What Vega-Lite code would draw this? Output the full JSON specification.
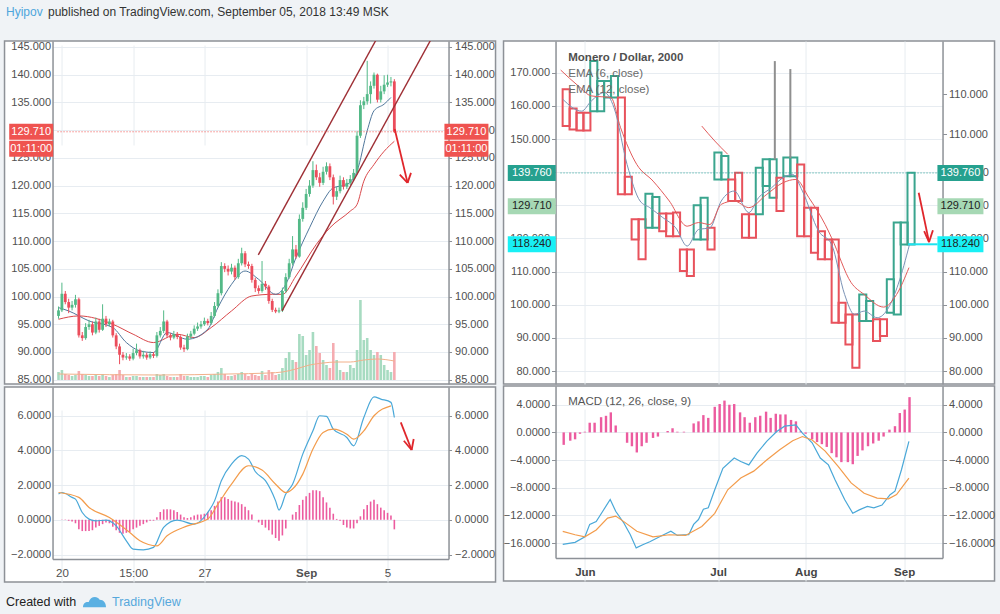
{
  "$schema": "https://vega.github.io/schema/vega-lite/v6.json",
  "background": "#f0f3f6",
  "padding": 0,
  "spacing": 0,
  "center": true,
  "config": {
    "font": "Liberation Sans",
    "view": {"stroke": "#8d9197", "strokeWidth": 1.5},
    "axis": {
      "labelFont": "Liberation Sans", "labelFontSize": 11, "labelColor": "#505050",
      "domainColor": "#8d9197", "domainWidth": 1.5, "tickColor": "#8d9197",
      "gridColor": "#e7ecf1", "labelFlush": false, "labelOverlap": false
    }
  },
  "datasets": {
    "candles": [
      {"t":"2018-08-19T20:00Z","o":96.5,"h":98.2,"l":96.0,"c":97.5,"v":8,"m":0},
      {"t":"2018-08-20T00:00Z","o":97.5,"h":102.5,"l":97.2,"c":100.5,"v":10,"m":0.02},
      {"t":"2018-08-20T04:00Z","o":100.5,"h":101.0,"l":98.6,"c":99.0,"v":6,"m":0.02},
      {"t":"2018-08-20T08:00Z","o":99.0,"h":99.6,"l":97.0,"c":98.0,"v":5,"m":-0.05},
      {"t":"2018-08-20T12:00Z","o":98.0,"h":99.2,"l":97.5,"c":98.5,"v":4,"m":-0.1},
      {"t":"2018-08-20T16:00Z","o":98.5,"h":100.3,"l":98.0,"c":99.5,"v":5,"m":-0.2},
      {"t":"2018-08-20T20:00Z","o":99.5,"h":99.8,"l":92.6,"c":93.0,"v":9,"m":-0.55},
      {"t":"2018-08-21T00:00Z","o":93.0,"h":93.6,"l":92.0,"c":92.5,"v":6,"m":-0.65},
      {"t":"2018-08-21T04:00Z","o":92.5,"h":95.2,"l":92.2,"c":94.5,"v":5,"m":-0.65},
      {"t":"2018-08-21T08:00Z","o":94.5,"h":95.8,"l":94.0,"c":95.0,"v":4,"m":-0.65},
      {"t":"2018-08-21T12:00Z","o":95.0,"h":95.5,"l":93.0,"c":93.5,"v":4,"m":-0.6},
      {"t":"2018-08-21T16:00Z","o":93.5,"h":96.2,"l":93.2,"c":95.5,"v":5,"m":-0.45},
      {"t":"2018-08-21T20:00Z","o":95.5,"h":96.0,"l":93.5,"c":94.0,"v":4,"m":-0.35},
      {"t":"2018-08-22T00:00Z","o":94.0,"h":98.6,"l":93.8,"c":96.0,"v":6,"m":-0.25},
      {"t":"2018-08-22T04:00Z","o":96.0,"h":96.5,"l":94.5,"c":95.0,"v":4,"m":-0.15},
      {"t":"2018-08-22T08:00Z","o":95.0,"h":96.0,"l":94.6,"c":95.5,"v":3,"m":-0.2},
      {"t":"2018-08-22T12:00Z","o":95.5,"h":95.8,"l":92.6,"c":93.0,"v":5,"m":-0.4},
      {"t":"2018-08-22T16:00Z","o":93.0,"h":93.4,"l":90.5,"c":91.0,"v":6,"m":-0.6},
      {"t":"2018-08-22T20:00Z","o":91.0,"h":91.5,"l":87.8,"c":89.5,"v":10,"m":-0.75},
      {"t":"2018-08-23T00:00Z","o":89.5,"h":90.0,"l":88.5,"c":89.0,"v":5,"m":-0.8},
      {"t":"2018-08-23T04:00Z","o":89.0,"h":89.8,"l":88.6,"c":89.2,"v":3,"m":-0.75},
      {"t":"2018-08-23T08:00Z","o":89.2,"h":89.6,"l":88.4,"c":88.8,"v":3,"m":-0.7},
      {"t":"2018-08-23T12:00Z","o":88.8,"h":90.6,"l":88.5,"c":89.8,"v":4,"m":-0.55},
      {"t":"2018-08-23T16:00Z","o":89.8,"h":91.5,"l":89.4,"c":90.3,"v":4,"m":-0.45},
      {"t":"2018-08-23T20:00Z","o":90.3,"h":90.6,"l":88.8,"c":89.2,"v":3,"m":-0.35},
      {"t":"2018-08-24T00:00Z","o":89.2,"h":90.2,"l":88.8,"c":89.5,"v":3,"m":-0.25},
      {"t":"2018-08-24T04:00Z","o":89.5,"h":89.9,"l":88.6,"c":89.0,"v":3,"m":-0.15},
      {"t":"2018-08-24T08:00Z","o":89.0,"h":90.1,"l":88.7,"c":89.6,"v":3,"m":-0.05},
      {"t":"2018-08-24T12:00Z","o":89.6,"h":90.0,"l":88.9,"c":89.3,"v":3,"m":-0.05},
      {"t":"2018-08-24T16:00Z","o":89.3,"h":93.6,"l":89.0,"c":93.0,"v":6,"m":0.15},
      {"t":"2018-08-24T20:00Z","o":93.0,"h":94.5,"l":92.6,"c":93.8,"v":5,"m":0.45},
      {"t":"2018-08-25T00:00Z","o":93.8,"h":97.5,"l":93.4,"c":95.5,"v":6,"m":0.6},
      {"t":"2018-08-25T04:00Z","o":95.5,"h":95.8,"l":92.6,"c":93.0,"v":4,"m":0.6},
      {"t":"2018-08-25T08:00Z","o":93.0,"h":93.4,"l":92.1,"c":92.6,"v":3,"m":0.6},
      {"t":"2018-08-25T12:00Z","o":92.6,"h":93.8,"l":92.3,"c":93.2,"v":3,"m":0.55},
      {"t":"2018-08-25T16:00Z","o":93.2,"h":93.6,"l":92.3,"c":92.7,"v":3,"m":0.45},
      {"t":"2018-08-25T20:00Z","o":92.7,"h":93.0,"l":90.4,"c":90.8,"v":6,"m":0.3},
      {"t":"2018-08-26T00:00Z","o":90.8,"h":91.3,"l":90.0,"c":90.5,"v":4,"m":0.15},
      {"t":"2018-08-26T04:00Z","o":90.5,"h":93.3,"l":90.3,"c":92.8,"v":4,"m":0.1},
      {"t":"2018-08-26T08:00Z","o":92.8,"h":93.8,"l":92.4,"c":93.3,"v":3,"m":0.15},
      {"t":"2018-08-26T12:00Z","o":93.3,"h":94.8,"l":93.0,"c":94.2,"v":3,"m":0.25},
      {"t":"2018-08-26T16:00Z","o":94.2,"h":95.3,"l":93.8,"c":94.6,"v":3,"m":0.3},
      {"t":"2018-08-26T20:00Z","o":94.6,"h":95.6,"l":94.2,"c":95.0,"v":4,"m":0.3},
      {"t":"2018-08-27T00:00Z","o":95.0,"h":96.2,"l":94.7,"c":95.6,"v":4,"m":0.35},
      {"t":"2018-08-27T04:00Z","o":95.6,"h":96.0,"l":94.8,"c":95.2,"v":3,"m":0.45},
      {"t":"2018-08-27T08:00Z","o":95.2,"h":97.2,"l":94.9,"c":96.5,"v":5,"m":0.55},
      {"t":"2018-08-27T12:00Z","o":96.5,"h":99.0,"l":96.2,"c":98.3,"v":6,"m":0.8},
      {"t":"2018-08-27T16:00Z","o":98.3,"h":101.3,"l":98.0,"c":100.6,"v":8,"m":1.05},
      {"t":"2018-08-27T20:00Z","o":100.6,"h":106.2,"l":100.2,"c":105.5,"v":12,"m":1.3},
      {"t":"2018-08-28T00:00Z","o":105.5,"h":106.0,"l":104.4,"c":105.0,"v":6,"m":1.3},
      {"t":"2018-08-28T04:00Z","o":105.0,"h":105.6,"l":103.8,"c":104.5,"v":4,"m":1.2},
      {"t":"2018-08-28T08:00Z","o":104.5,"h":105.9,"l":104.0,"c":105.2,"v":4,"m":1.1},
      {"t":"2018-08-28T12:00Z","o":105.2,"h":105.6,"l":103.0,"c":103.5,"v":5,"m":1.05},
      {"t":"2018-08-28T16:00Z","o":103.5,"h":106.8,"l":103.2,"c":106.0,"v":6,"m":1.0},
      {"t":"2018-08-28T20:00Z","o":106.0,"h":108.8,"l":105.6,"c":107.8,"v":8,"m":0.9},
      {"t":"2018-08-29T00:00Z","o":107.8,"h":108.2,"l":105.3,"c":105.8,"v":6,"m":0.75},
      {"t":"2018-08-29T04:00Z","o":105.8,"h":106.3,"l":105.0,"c":105.5,"v":4,"m":0.55},
      {"t":"2018-08-29T08:00Z","o":105.5,"h":105.9,"l":102.5,"c":103.0,"v":6,"m":0.3},
      {"t":"2018-08-29T12:00Z","o":103.0,"h":103.4,"l":100.8,"c":101.5,"v":5,"m":0.0},
      {"t":"2018-08-29T16:00Z","o":101.5,"h":102.0,"l":100.5,"c":101.0,"v":4,"m":-0.15},
      {"t":"2018-08-29T20:00Z","o":101.0,"h":106.4,"l":100.7,"c":102.3,"v":9,"m":-0.3},
      {"t":"2018-08-30T00:00Z","o":102.3,"h":102.8,"l":101.2,"c":101.8,"v":5,"m":-0.45},
      {"t":"2018-08-30T04:00Z","o":101.8,"h":102.1,"l":98.7,"c":99.2,"v":10,"m":-0.6},
      {"t":"2018-08-30T08:00Z","o":99.2,"h":99.6,"l":97.2,"c":97.6,"v":8,"m":-0.85},
      {"t":"2018-08-30T12:00Z","o":97.6,"h":98.0,"l":97.0,"c":97.3,"v":5,"m":-1.05},
      {"t":"2018-08-30T16:00Z","o":97.3,"h":98.0,"l":97.0,"c":97.5,"v":6,"m":-1.2},
      {"t":"2018-08-30T20:00Z","o":97.5,"h":101.6,"l":97.2,"c":101.0,"v":12,"m":-0.9},
      {"t":"2018-08-31T00:00Z","o":101.0,"h":104.2,"l":100.6,"c":103.5,"v":22,"m":-0.5},
      {"t":"2018-08-31T04:00Z","o":103.5,"h":106.8,"l":103.2,"c":106.0,"v":28,"m":0.0},
      {"t":"2018-08-31T08:00Z","o":106.0,"h":110.9,"l":105.6,"c":108.5,"v":20,"m":0.3},
      {"t":"2018-08-31T12:00Z","o":108.5,"h":109.3,"l":106.8,"c":107.2,"v":18,"m":0.45},
      {"t":"2018-08-31T16:00Z","o":107.2,"h":114.8,"l":107.0,"c":114.0,"v":46,"m":0.85},
      {"t":"2018-08-31T20:00Z","o":114.0,"h":117.0,"l":113.5,"c":116.0,"v":44,"m":1.15},
      {"t":"2018-09-01T00:00Z","o":116.0,"h":119.4,"l":115.6,"c":118.5,"v":25,"m":1.35},
      {"t":"2018-09-01T04:00Z","o":118.5,"h":121.0,"l":118.0,"c":120.0,"v":30,"m":1.55},
      {"t":"2018-09-01T08:00Z","o":120.0,"h":124.4,"l":119.6,"c":122.8,"v":48,"m":1.7},
      {"t":"2018-09-01T12:00Z","o":122.8,"h":123.8,"l":121.0,"c":121.5,"v":34,"m":1.7},
      {"t":"2018-09-01T16:00Z","o":121.5,"h":122.3,"l":119.8,"c":120.5,"v":27,"m":1.65},
      {"t":"2018-09-01T20:00Z","o":120.5,"h":123.4,"l":120.1,"c":122.5,"v":20,"m":1.3},
      {"t":"2018-09-02T00:00Z","o":122.5,"h":124.2,"l":122.0,"c":123.5,"v":15,"m":1.0},
      {"t":"2018-09-02T04:00Z","o":123.5,"h":124.0,"l":121.0,"c":121.5,"v":12,"m":0.7},
      {"t":"2018-09-02T08:00Z","o":121.5,"h":122.0,"l":116.6,"c":118.0,"v":37,"m":0.35},
      {"t":"2018-09-02T12:00Z","o":118.0,"h":119.8,"l":117.4,"c":119.0,"v":20,"m":0.05},
      {"t":"2018-09-02T16:00Z","o":119.0,"h":121.8,"l":118.6,"c":121.0,"v":10,"m":-0.05},
      {"t":"2018-09-02T20:00Z","o":121.0,"h":121.5,"l":119.3,"c":119.8,"v":8,"m":-0.3},
      {"t":"2018-09-03T00:00Z","o":119.8,"h":121.2,"l":119.4,"c":120.5,"v":8,"m":-0.45},
      {"t":"2018-09-03T04:00Z","o":120.5,"h":121.9,"l":120.1,"c":121.2,"v":15,"m":-0.5},
      {"t":"2018-09-03T08:00Z","o":121.2,"h":123.0,"l":120.8,"c":122.3,"v":12,"m":-0.5},
      {"t":"2018-09-03T12:00Z","o":122.3,"h":129.8,"l":122.0,"c":129.0,"v":30,"m":-0.2},
      {"t":"2018-09-03T16:00Z","o":129.0,"h":135.4,"l":128.6,"c":134.5,"v":80,"m":0.2},
      {"t":"2018-09-03T20:00Z","o":134.5,"h":136.0,"l":133.8,"c":135.2,"v":40,"m":0.6},
      {"t":"2018-09-04T00:00Z","o":135.2,"h":142.5,"l":134.6,"c":136.5,"v":42,"m":0.85},
      {"t":"2018-09-04T04:00Z","o":136.5,"h":138.8,"l":134.8,"c":138.0,"v":30,"m":1.05},
      {"t":"2018-09-04T08:00Z","o":138.0,"h":140.4,"l":137.5,"c":140.0,"v":25,"m":1.15},
      {"t":"2018-09-04T12:00Z","o":140.0,"h":140.2,"l":135.0,"c":135.5,"v":28,"m":0.9},
      {"t":"2018-09-04T16:00Z","o":135.5,"h":138.0,"l":135.0,"c":137.0,"v":25,"m":0.7},
      {"t":"2018-09-04T20:00Z","o":137.0,"h":139.9,"l":136.5,"c":138.2,"v":15,"m":0.55},
      {"t":"2018-09-05T00:00Z","o":138.2,"h":140.0,"l":137.8,"c":138.6,"v":10,"m":0.4},
      {"t":"2018-09-05T04:00Z","o":138.6,"h":139.6,"l":137.9,"c":138.8,"v":8,"m":0.25},
      {"t":"2018-09-05T08:00Z","o":138.8,"h":139.2,"l":129.5,"c":129.71,"v":28,"m":-0.55}
    ],
    "vma": [
      {"t":"2018-08-19T20:00Z","v":6},{"t":"2018-08-24T20:00Z","v":5},{"t":"2018-08-28T04:00Z","v":6},
      {"t":"2018-08-30T04:00Z","v":7},{"t":"2018-08-30T20:00Z","v":8},{"t":"2018-08-31T12:00Z","v":11},
      {"t":"2018-09-01T04:00Z","v":15},{"t":"2018-09-01T20:00Z","v":17},{"t":"2018-09-02T12:00Z","v":18},
      {"t":"2018-09-03T04:00Z","v":18},{"t":"2018-09-03T20:00Z","v":20},{"t":"2018-09-04T12:00Z","v":21},
      {"t":"2018-09-05T08:00Z","v":19}
    ],
    "ema_l": [
      {"s":"slow","t":"2018-08-19T20:00Z","p":95.9},{"s":"slow","t":"2018-08-20T20:00Z","p":96.5},
      {"s":"slow","t":"2018-08-22T12:00Z","p":95.0},{"s":"slow","t":"2018-08-23T12:00Z","p":93.2},
      {"s":"slow","t":"2018-08-24T12:00Z","p":91.7},{"s":"slow","t":"2018-08-25T16:00Z","p":93.2},
      {"s":"slow","t":"2018-08-26T12:00Z","p":92.6},{"s":"slow","t":"2018-08-27T08:00Z","p":94.4},
      {"s":"slow","t":"2018-08-28T08:00Z","p":97.4},{"s":"slow","t":"2018-08-29T08:00Z","p":100.1},
      {"s":"slow","t":"2018-08-30T08:00Z","p":100.4},{"s":"slow","t":"2018-08-30T20:00Z","p":100.4},
      {"s":"slow","t":"2018-08-31T12:00Z","p":103.7},{"s":"slow","t":"2018-09-01T12:00Z","p":109.4},
      {"s":"slow","t":"2018-09-02T04:00Z","p":112.4},{"s":"slow","t":"2018-09-03T04:00Z","p":115.4},
      {"s":"slow","t":"2018-09-03T12:00Z","p":116.6},{"s":"slow","t":"2018-09-03T20:00Z","p":120.8},
      {"s":"slow","t":"2018-09-04T08:00Z","p":123.8},{"s":"slow","t":"2018-09-04T20:00Z","p":126.2},
      {"s":"slow","t":"2018-09-05T08:00Z","p":128.0},
      {"s":"fast","t":"2018-08-19T20:00Z","p":98.0},{"s":"fast","t":"2018-08-20T08:00Z","p":97.4},
      {"s":"fast","t":"2018-08-21T08:00Z","p":95.6},{"s":"fast","t":"2018-08-22T12:00Z","p":94.4},
      {"s":"fast","t":"2018-08-23T04:00Z","p":91.7},{"s":"fast","t":"2018-08-23T20:00Z","p":90.2},
      {"s":"fast","t":"2018-08-24T12:00Z","p":89.9},{"s":"fast","t":"2018-08-25T04:00Z","p":93.5},
      {"s":"fast","t":"2018-08-26T04:00Z","p":92.3},{"s":"fast","t":"2018-08-27T04:00Z","p":94.1},
      {"s":"fast","t":"2018-08-27T16:00Z","p":98.0},{"s":"fast","t":"2018-08-28T08:00Z","p":102.2},
      {"s":"fast","t":"2018-08-29T00:00Z","p":104.6},{"s":"fast","t":"2018-08-29T16:00Z","p":103.1},
      {"s":"fast","t":"2018-08-30T12:00Z","p":100.4},{"s":"fast","t":"2018-08-31T00:00Z","p":102.2},
      {"s":"fast","t":"2018-08-31T12:00Z","p":107.0},{"s":"fast","t":"2018-09-01T04:00Z","p":112.4},
      {"s":"fast","t":"2018-09-01T20:00Z","p":117.2},{"s":"fast","t":"2018-09-02T08:00Z","p":119.6},
      {"s":"fast","t":"2018-09-03T00:00Z","p":120.2},{"s":"fast","t":"2018-09-03T12:00Z","p":122.6},
      {"s":"fast","t":"2018-09-04T00:00Z","p":129.9},{"s":"fast","t":"2018-09-04T08:00Z","p":133.5},
      {"s":"fast","t":"2018-09-04T20:00Z","p":134.7},{"s":"fast","t":"2018-09-05T04:00Z","p":135.9}
    ],
    "chan": [
      {"ln":"upper","t":"2018-08-29T15:36Z","p":107.5},{"ln":"upper","t":"2018-09-04T13:00Z","p":147},
      {"ln":"lower","t":"2018-08-30T19:36Z","p":97.4},{"ln":"lower","t":"2018-09-07T05:30Z","p":147}
    ],
    "last_l": [{"price":129.71,"label":"129.710","clock":"01:11:00"}],
    "arrow_p": [
      {"s":"a","t":"2018-09-05T08:24Z","p":130.2},{"s":"a","t":"2018-09-05T23:36Z","p":120.5},
      {"s":"b","t":"2018-09-05T14:24Z","p":122.0},{"s":"b","t":"2018-09-05T23:36Z","p":120.5},
      {"s":"c","t":"2018-09-06T03:36Z","p":122.3},{"s":"c","t":"2018-09-05T23:36Z","p":120.5}
    ],
    "macd_l": [
      {"s":"macd","t":"2018-08-19T20:00Z","v":1.48},{"s":"macd","t":"2018-08-20T00:00Z","v":1.57},
      {"s":"macd","t":"2018-08-20T12:00Z","v":1.29},{"s":"macd","t":"2018-08-20T16:00Z","v":1.19},
      {"s":"macd","t":"2018-08-21T00:00Z","v":0.42},{"s":"macd","t":"2018-08-21T08:00Z","v":0.04},
      {"s":"macd","t":"2018-08-21T16:00Z","v":-0.06},{"s":"macd","t":"2018-08-22T04:00Z","v":-0.02},
      {"s":"macd","t":"2018-08-22T16:00Z","v":-0.35},{"s":"macd","t":"2018-08-23T04:00Z","v":-1.21},
      {"s":"macd","t":"2018-08-23T12:00Z","v":-1.69},{"s":"macd","t":"2018-08-24T00:00Z","v":-1.73},
      {"s":"macd","t":"2018-08-24T12:00Z","v":-1.59},{"s":"macd","t":"2018-08-25T00:00Z","v":-0.44},
      {"s":"macd","t":"2018-08-25T16:00Z","v":-0.02},{"s":"macd","t":"2018-08-26T12:00Z","v":-0.25},
      {"s":"macd","t":"2018-08-27T04:00Z","v":0.42},{"s":"macd","t":"2018-08-27T12:00Z","v":1.09},
      {"s":"macd","t":"2018-08-27T20:00Z","v":2.25},{"s":"macd","t":"2018-08-28T08:00Z","v":3.2},
      {"s":"macd","t":"2018-08-28T20:00Z","v":3.69},{"s":"macd","t":"2018-08-29T04:00Z","v":3.49},
      {"s":"macd","t":"2018-08-29T12:00Z","v":2.78},{"s":"macd","t":"2018-08-30T00:00Z","v":2.25},
      {"s":"macd","t":"2018-08-30T12:00Z","v":1.09},{"s":"macd","t":"2018-08-30T16:00Z","v":0.56},
      {"s":"macd","t":"2018-08-31T00:00Z","v":1.48},{"s":"macd","t":"2018-08-31T08:00Z","v":2.05},
      {"s":"macd","t":"2018-08-31T20:00Z","v":3.78},{"s":"macd","t":"2018-09-01T08:00Z","v":5.12},
      {"s":"macd","t":"2018-09-01T16:00Z","v":5.99},{"s":"macd","t":"2018-09-02T00:00Z","v":5.95},
      {"s":"macd","t":"2018-09-02T08:00Z","v":5.22},{"s":"macd","t":"2018-09-03T00:00Z","v":4.74},
      {"s":"macd","t":"2018-09-03T08:00Z","v":4.26},{"s":"macd","t":"2018-09-03T20:00Z","v":5.89},
      {"s":"macd","t":"2018-09-04T08:00Z","v":7.08},{"s":"macd","t":"2018-09-04T16:00Z","v":6.95},
      {"s":"macd","t":"2018-09-05T04:00Z","v":6.76},{"s":"macd","t":"2018-09-05T08:00Z","v":5.89},
      {"s":"signal","t":"2018-08-19T20:00Z","v":1.57},{"s":"signal","t":"2018-08-20T20:00Z","v":1.29},
      {"s":"signal","t":"2018-08-21T08:00Z","v":0.71},{"s":"signal","t":"2018-08-22T08:00Z","v":0.13},
      {"s":"signal","t":"2018-08-23T08:00Z","v":-0.73},{"s":"signal","t":"2018-08-23T20:00Z","v":-1.21},
      {"s":"signal","t":"2018-08-24T16:00Z","v":-1.5},{"s":"signal","t":"2018-08-25T04:00Z","v":-0.92},
      {"s":"signal","t":"2018-08-26T04:00Z","v":-0.35},{"s":"signal","t":"2018-08-27T04:00Z","v":0.04},
      {"s":"signal","t":"2018-08-27T16:00Z","v":0.9},{"s":"signal","t":"2018-08-28T08:00Z","v":2.05},
      {"s":"signal","t":"2018-08-29T04:00Z","v":3.11},{"s":"signal","t":"2018-08-29T20:00Z","v":2.86},
      {"s":"signal","t":"2018-08-30T12:00Z","v":2.05},{"s":"signal","t":"2018-08-31T00:00Z","v":1.57},
      {"s":"signal","t":"2018-08-31T08:00Z","v":1.77},{"s":"signal","t":"2018-08-31T20:00Z","v":2.63},
      {"s":"signal","t":"2018-09-01T08:00Z","v":4.07},{"s":"signal","t":"2018-09-01T20:00Z","v":5.03},
      {"s":"signal","t":"2018-09-02T08:00Z","v":5.22},{"s":"signal","t":"2018-09-03T00:00Z","v":4.93},
      {"s":"signal","t":"2018-09-03T08:00Z","v":4.64},{"s":"signal","t":"2018-09-03T20:00Z","v":5.12},
      {"s":"signal","t":"2018-09-04T08:00Z","v":5.99},{"s":"signal","t":"2018-09-05T04:00Z","v":6.56}
    ],
    "arrow_m": [
      {"s":"a","t":"2018-09-05T15:36Z","v":5.61},{"s":"a","t":"2018-09-06T04:24Z","v":4.02},
      {"s":"b","t":"2018-09-05T19:12Z","v":4.55},{"s":"b","t":"2018-09-06T04:24Z","v":4.02},
      {"s":"c","t":"2018-09-06T06:48Z","v":4.65},{"s":"c","t":"2018-09-06T04:24Z","v":4.02}
    ],
    "boxes": [
      {"n":0,"o":165.0,"c":153.9},{"n":1,"o":159.2,"c":152.9},{"n":2,"o":157.9,"c":152.6},
      {"n":3,"o":157.9,"c":152.6},{"n":4,"o":158.4,"c":173.5},{"n":5,"o":158.4,"c":167.5},
      {"n":6,"o":162.5,"c":167.5},{"n":7,"o":162.5,"c":169.0},{"n":8,"o":162.5,"c":133.3},
      {"n":9,"o":138.6,"c":133.3},{"n":10,"o":125.8,"c":119.7},{"n":11,"o":125.8,"c":113.7},
      {"n":12,"o":123.2,"c":133.5},{"n":13,"o":123.2,"c":132.5},{"n":14,"o":127.5,"c":122.2},
      {"n":15,"o":127.5,"c":120.7},{"n":16,"o":127.8,"c":120.7},{"n":17,"o":116.7,"c":110.2},
      {"n":18,"o":116.7,"c":108.7},{"n":19,"o":119.7,"c":130.0},{"n":20,"o":119.7,"c":132.3},
      {"n":21,"o":123.2,"c":116.7},{"n":22,"o":137.8,"c":145.9},{"n":23,"o":137.8,"c":144.9},
      {"n":24,"o":137.8,"c":131.3},{"n":25,"o":139.8,"c":131.3},{"n":26,"o":127.3,"c":120.2},
      {"n":27,"o":127.3,"c":120.2},{"n":28,"o":127.3,"c":141.3},{"n":29,"o":135.8,"c":143.9},
      {"n":30,"o":132.3,"c":143.9},{"n":31,"o":138.3,"c":128.3},{"n":32,"o":138.8,"c":144.4},
      {"n":33,"o":138.8,"c":144.4},{"n":34,"o":142.3,"c":120.7},{"n":35,"o":129.3,"c":120.7},
      {"n":36,"o":129.3,"c":115.7},{"n":37,"o":122.2,"c":113.7},{"n":38,"o":119.7,"c":113.7},
      {"n":39,"o":119.7,"c":94.6},{"n":40,"o":100.6,"c":94.6},{"n":41,"o":97.1,"c":88.0},
      {"n":42,"o":97.1,"c":81.0},{"n":43,"o":95.1,"c":103.1},{"n":44,"o":95.1,"c":101.1},
      {"n":45,"o":95.6,"c":89.1},{"n":46,"o":95.6,"c":90.6},{"n":47,"o":97.6,"c":107.7},
      {"n":48,"o":97.1,"c":124.8},{"n":49,"o":118.2,"c":124.8},{"n":50,"o":118.2,"c":139.8}
    ],
    "ema_r": [
      {"s":"ema6","n":-0.5,"p":162.0},{"s":"ema6","n":2.24,"p":158.4},{"s":"ema6","n":3.65,"p":161.5},
      {"s":"ema6","n":5.53,"p":164.0},{"s":"ema6","n":6.94,"p":159.4},{"s":"ema6","n":8.83,"p":142.3},
      {"s":"ema6","n":10.71,"p":131.3},{"s":"ema6","n":12.12,"p":129.3},{"s":"ema6","n":14.0,"p":126.3},
      {"s":"ema6","n":15.89,"p":123.2},{"s":"ema6","n":17.54,"p":117.7},{"s":"ema6","n":19.19,"p":122.7},
      {"s":"ema6","n":20.83,"p":123.2},{"s":"ema6","n":22.48,"p":131.3},{"s":"ema6","n":24.36,"p":134.3},
      {"s":"ema6","n":26.48,"p":127.8},{"s":"ema6","n":27.89,"p":132.3},{"s":"ema6","n":29.78,"p":135.3},
      {"s":"ema6","n":31.42,"p":138.3},{"s":"ema6","n":32.83,"p":139.3},{"s":"ema6","n":34.25,"p":134.3},
      {"s":"ema6","n":36.6,"p":122.2},{"s":"ema6","n":38.48,"p":118.2},{"s":"ema6","n":40.37,"p":103.1},
      {"s":"ema6","n":41.78,"p":97.1},{"s":"ema6","n":43.2,"p":98.1},{"s":"ema6","n":45.08,"p":96.1},
      {"s":"ema6","n":46.73,"p":99.1},{"s":"ema6","n":48.14,"p":106.2},{"s":"ema6","n":49.78,"p":118.2},
      {"s":"ema12","n":-0.8,"p":170.8},{"s":"ema12","n":1.76,"p":166.0},{"s":"ema12","n":3.65,"p":163.0},
      {"s":"ema12","n":6.48,"p":162.5},{"s":"ema12","n":7.89,"p":153.4},{"s":"ema12","n":10.24,"p":142.3},
      {"s":"ema12","n":12.6,"p":137.3},{"s":"ema12","n":14.95,"p":131.3},{"s":"ema12","n":17.54,"p":123.7},
      {"s":"ema12","n":19.19,"p":124.8},{"s":"ema12","n":20.83,"p":124.2},{"s":"ema12","n":22.48,"p":130.3},
      {"s":"ema12","n":24.36,"p":131.3},{"s":"ema12","n":26.48,"p":129.3},{"s":"ema12","n":29.08,"p":133.3},
      {"s":"ema12","n":31.42,"p":136.8},{"s":"ema12","n":33.31,"p":137.8},{"s":"ema12","n":35.19,"p":132.3},
      {"s":"ema12","n":37.55,"p":124.2},{"s":"ema12","n":38.48,"p":120.2},{"s":"ema12","n":41.31,"p":106.7},
      {"s":"ema12","n":43.2,"p":103.1},{"s":"ema12","n":46.02,"p":99.3},{"s":"ema12","n":47.9,"p":103.1},
      {"s":"ema12","n":49.7,"p":111.2},
      {"s":"ema12b","n":19.66,"p":153.9},{"s":"ema12b","n":21.54,"p":149.4},{"s":"ema12b","n":23.42,"p":145.4}
    ],
    "spikes": [{"n":30.25,"lo":143.8,"hi":173.5},{"n":32.5,"lo":144.2,"hi":171.1}],
    "last_r": [
      {"price":139.76,"label":"139.760"},{"price":129.71,"label":"129.710"},{"price":118.24,"label":"118.240"}
    ],
    "arrow_r": [
      {"s":"a","n":51.11,"p":133.8},{"s":"a","n":52.61,"p":118.9},
      {"s":"b","n":51.9,"p":122.2},{"s":"b","n":52.61,"p":118.9},
      {"s":"c","n":53.17,"p":122.5},{"s":"c","n":52.61,"p":118.9}
    ],
    "macd_r": [
      {"s":"macd","n":-0.5,"v":-16.2},{"s":"macd","n":1.29,"v":-15.9},{"s":"macd","n":2.71,"v":-15.1},
      {"s":"macd","n":3.41,"v":-13.3},{"s":"macd","n":4.35,"v":-12.9},{"s":"macd","n":5.3,"v":-11.4},
      {"s":"macd","n":6.38,"v":-9.7},{"s":"macd","n":7.18,"v":-11.4},{"s":"macd","n":8.36,"v":-13.1},
      {"s":"macd","n":9.3,"v":-14.8},{"s":"macd","n":10.15,"v":-16.7},{"s":"macd","n":11.18,"v":-16.2},
      {"s":"macd","n":12.12,"v":-15.8},{"s":"macd","n":13.54,"v":-15.1},{"s":"macd","n":15.18,"v":-14.3},
      {"s":"macd","n":16.12,"v":-14.9},{"s":"macd","n":17.07,"v":-14.8},{"s":"macd","n":17.77,"v":-14.8},
      {"s":"macd","n":18.48,"v":-13.3},{"s":"macd","n":19.18,"v":-12.6},{"s":"macd","n":19.89,"v":-11.1},
      {"s":"macd","n":20.6,"v":-10.9},{"s":"macd","n":21.54,"v":-8.3},{"s":"macd","n":22.72,"v":-5.2},
      {"s":"macd","n":24.36,"v":-3.7},{"s":"macd","n":25.31,"v":-4.2},{"s":"macd","n":26.48,"v":-4.7},
      {"s":"macd","n":27.66,"v":-3.0},{"s":"macd","n":29.07,"v":-1.3},{"s":"macd","n":30.48,"v":0.1},
      {"s":"macd","n":31.66,"v":0.9},{"s":"macd","n":33.31,"v":1.1},{"s":"macd","n":34.25,"v":-0.1},
      {"s":"macd","n":35.66,"v":-1.5},{"s":"macd","n":36.84,"v":-3.7},{"s":"macd","n":38.02,"v":-4.7},
      {"s":"macd","n":38.96,"v":-6.8},{"s":"macd","n":40.37,"v":-9.7},{"s":"macd","n":41.55,"v":-11.7},
      {"s":"macd","n":42.49,"v":-11.2},{"s":"macd","n":43.67,"v":-10.7},{"s":"macd","n":44.61,"v":-10.9},
      {"s":"macd","n":45.79,"v":-10.5},{"s":"macd","n":46.96,"v":-9.0},{"s":"macd","n":47.67,"v":-8.5},
      {"s":"macd","n":48.61,"v":-5.4},{"s":"macd","n":49.69,"v":-1.3},
      {"s":"signal","n":-0.5,"v":-14.3},{"s":"signal","n":1.29,"v":-14.8},{"s":"signal","n":2.71,"v":-15.1},
      {"s":"signal","n":4.35,"v":-14.1},{"s":"signal","n":6.0,"v":-12.4},{"s":"signal","n":7.18,"v":-12.1},
      {"s":"signal","n":8.36,"v":-12.9},{"s":"signal","n":10.24,"v":-14.3},{"s":"signal","n":12.59,"v":-15.1},
      {"s":"signal","n":14.95,"v":-14.8},{"s":"signal","n":17.3,"v":-14.9},{"s":"signal","n":19.66,"v":-13.6},
      {"s":"signal","n":21.54,"v":-11.7},{"s":"signal","n":23.42,"v":-8.3},{"s":"signal","n":25.31,"v":-6.6},
      {"s":"signal","n":27.19,"v":-5.6},{"s":"signal","n":29.07,"v":-4.0},{"s":"signal","n":30.95,"v":-2.5},
      {"s":"signal","n":32.84,"v":-1.2},{"s":"signal","n":34.25,"v":-0.6},{"s":"signal","n":35.66,"v":-1.1},
      {"s":"signal","n":37.55,"v":-2.7},{"s":"signal","n":39.43,"v":-4.9},{"s":"signal","n":41.31,"v":-7.3},
      {"s":"signal","n":43.2,"v":-8.8},{"s":"signal","n":45.08,"v":-9.5},{"s":"signal","n":46.73,"v":-9.6},
      {"s":"signal","n":47.9,"v":-9.0},{"s":"signal","n":49.69,"v":-6.6}
    ],
    "hist_r": [
      {"n":-0.36,"h":-1.8},{"n":0.59,"h":-1.2},{"n":1.29,"h":-1.0},{"n":2.0,"h":-0.2},{"n":2.71,"h":0.1},
      {"n":3.41,"h":1.4},{"n":4.12,"h":1.4},{"n":5.06,"h":2.2},{"n":5.77,"h":2.4},{"n":6.47,"h":2.9},
      {"n":7.18,"h":1.0},{"n":8.83,"h":-1.5},{"n":9.53,"h":-2.0},{"n":10.24,"h":-2.9},{"n":10.95,"h":-2.0},
      {"n":11.65,"h":-1.5},{"n":12.59,"h":-0.8},{"n":13.3,"h":-0.6},{"n":14.71,"h":0.2},{"n":15.42,"h":0.6},
      {"n":16.12,"h":0.1},{"n":17.07,"h":0.1},{"n":18.48,"h":1.3},{"n":19.18,"h":1.6},{"n":19.89,"h":2.5},
      {"n":20.6,"h":2.1},{"n":21.54,"h":3.7},{"n":22.25,"h":4.1},{"n":22.95,"h":4.6},{"n":23.66,"h":4.0},
      {"n":24.36,"h":4.1},{"n":25.21,"h":2.9},{"n":25.87,"h":2.2},{"n":26.62,"h":1.4},{"n":27.42,"h":2.2},
      {"n":28.13,"h":2.4},{"n":28.98,"h":3.0},{"n":29.64,"h":2.1},{"n":30.39,"h":2.7},{"n":31.05,"h":2.6},
      {"n":31.8,"h":2.6},{"n":32.6,"h":1.8},{"n":33.31,"h":1.6},{"n":34.02,"h":0.2},{"n":34.72,"h":-0.2},
      {"n":35.66,"h":-1.0},{"n":36.37,"h":-1.4},{"n":37.07,"h":-1.7},{"n":37.78,"h":-2.1},{"n":38.49,"h":-3.0},
      {"n":39.19,"h":-3.6},{"n":39.9,"h":-4.3},{"n":40.84,"h":-4.3},{"n":41.55,"h":-4.6},{"n":42.25,"h":-3.4},
      {"n":42.96,"h":-2.6},{"n":43.76,"h":-2.0},{"n":44.51,"h":-1.6},{"n":45.31,"h":-1.2},{"n":46.02,"h":-0.6},
      {"n":46.87,"h":0.4},{"n":47.67,"h":0.9},{"n":48.37,"h":2.8},{"n":49.08,"h":3.3},{"n":49.78,"h":5.1}
    ]
  },
  "vconcat": [
    {
      "width": 1000,
      "height": 40,
      "view": {"stroke": null},
      "data": {"values": [{"who": "Hyipov", "what": "published on TradingView.com, September 05, 2018 13:49 MSK"}]},
      "layer": [
        {
          "mark": {"type": "text", "align": "left", "baseline": "middle", "fontSize": 12, "color": "#4ea6dc"},
          "encoding": {
            "x": {"datum": 0.006, "type": "quantitative", "scale": {"domain": [0, 1]}, "axis": null},
            "y": {"datum": 0.7, "type": "quantitative", "scale": {"domain": [0, 1]}, "axis": null},
            "text": {"field": "who"}
          }
        },
        {
          "mark": {"type": "text", "align": "left", "baseline": "middle", "fontSize": 12, "color": "#333333"},
          "encoding": {
            "x": {"datum": 0.048, "type": "quantitative"},
            "y": {"datum": 0.7, "type": "quantitative"},
            "text": {"field": "what"}
          }
        }
      ]
    },
    {
      "hconcat": [
        {
          "vconcat": [
            {
              "width": 491,
              "height": 343,
              "view": {"fill": "#ffffff"},
              "resolve": {"scale": {"y": "independent"}},
              "layer": [
                {
                  "data": {"name": "candles"},
                  "layer": [
                    {
                      "mark": {"type": "bar", "width": 2.6},
                      "encoding": {
                        "x": {
                          "field": "t", "type": "temporal",
                          "scale": {"type": "utc", "domain": [1534704660000, 1536343200000], "range": [48, 444], "nice": false},
                          "axis": {
                            "orient": "bottom", "labels": false, "ticks": false, "domain": false, "grid": true, "title": null,
                            "values": [1534723200000, 1535025600000, 1535328000000, 1535760000000, 1536105600000]
                          }
                        },
                        "y": {"field": "v", "type": "quantitative", "scale": {"domain": [0, 100], "range": [339, 239], "nice": false}, "axis": null},
                        "y2": {"datum": 0},
                        "color": {"condition": {"test": "datum.c >= datum.o", "value": "#a7dbc1"}, "value": "#f5acb1"}
                      }
                    },
                    {
                      "data": {"name": "vma"},
                      "mark": {"type": "line", "color": "#f2b08a", "strokeWidth": 1, "interpolate": "monotone"},
                      "encoding": {
                        "x": {"field": "t", "type": "temporal"},
                        "y": {"field": "v", "type": "quantitative"}
                      }
                    }
                  ]
                },
                {
                  "layer": [
                    {
                      "data": {"name": "ema_l"},
                      "mark": {"type": "line", "strokeWidth": 1, "interpolate": "monotone"},
                      "encoding": {
                        "x": {"field": "t", "type": "temporal"},
                        "y": {"field": "p", "type": "quantitative", "scale": {"domain": [84.225, 146.082], "nice": false, "zero": false}, "axis": null},
                        "color": {
                          "field": "s", "type": "nominal", "legend": null,
                          "scale": {
                            "domain": ["fast", "slow", "macd", "signal", "ema6", "ema12", "ema12b"],
                            "range": ["#50779c", "#d9474a", "#4aa8d8", "#f39c4c", "#7b93b6", "#e25b5b", "#e25b5b"]
                          }
                        }
                      }
                    },
                    {
                      "data": {"name": "candles"},
                      "mark": {"type": "rule", "strokeWidth": 1},
                      "encoding": {
                        "x": {"field": "t", "type": "temporal"},
                        "y": {"field": "l", "type": "quantitative"},
                        "y2": {"field": "h"},
                        "color": {"condition": {"test": "datum.c >= datum.o", "value": "#53b987"}, "value": "#eb4d5c"}
                      }
                    },
                    {
                      "data": {"name": "candles"},
                      "mark": {"type": "bar", "width": 2.8},
                      "encoding": {
                        "x": {"field": "t", "type": "temporal"},
                        "y": {"field": "o", "type": "quantitative"},
                        "y2": {"field": "c"},
                        "color": {"condition": {"test": "datum.c >= datum.o", "value": "#53b987"}, "value": "#eb4d5c"}
                      }
                    },
                    {
                      "data": {"name": "chan"},
                      "mark": {"type": "line", "color": "#9e2f35", "strokeWidth": 1.4, "clip": true},
                      "encoding": {
                        "x": {"field": "t", "type": "temporal"},
                        "y": {"field": "p", "type": "quantitative"},
                        "detail": {"field": "ln"}
                      }
                    },
                    {
                      "data": {"name": "arrow_p"},
                      "mark": {"type": "line", "color": "#e0262b", "strokeWidth": 1.8},
                      "encoding": {
                        "x": {"field": "t", "type": "temporal"},
                        "y": {"field": "p", "type": "quantitative"},
                        "detail": {"field": "s"}
                      }
                    }
                  ]
                },
                {
                  "data": {"name": "last_l"},
                  "layer": [
                    {
                      "mark": {"type": "rule", "color": "#ef5350", "strokeDash": [1, 2], "strokeWidth": 1},
                      "encoding": {
                        "x": {"datum": 1534704660000, "type": "temporal"},
                        "x2": {"datum": 1536343200000},
                        "y": {"field": "price", "type": "quantitative", "scale": {"domain": [84.225, 146.082], "nice": false, "zero": false}, "axis": null}
                      }
                    },
                    {
                      "mark": {"type": "point", "shape": "M-1,-0.364L1,-0.364L1,0.364L-1,0.364Z M-1,0.409L1,0.409L1,1.136L-1,1.136Z", "size": 1936, "filled": true, "color": "#ef5350", "opacity": 1, "strokeWidth": 0},
                      "encoding": {
                        "x": {"datum": 1534592940000, "type": "temporal"},
                        "y": {"field": "price", "type": "quantitative"}
                      }
                    },
                    {
                      "mark": {"type": "point", "shape": "M-1,-0.364L1,-0.364L1,0.364L-1,0.364Z M-1,0.409L1,0.409L1,1.136L-1,1.136Z", "size": 1936, "filled": true, "color": "#ef5350", "opacity": 1, "strokeWidth": 0},
                      "encoding": {
                        "x": {"datum": 1536440400000, "type": "temporal"},
                        "y": {"field": "price", "type": "quantitative"}
                      }
                    },
                    {
                      "mark": {"type": "text", "color": "#ffffff", "fontSize": 11, "align": "center", "baseline": "middle"},
                      "encoding": {
                        "x": {"datum": 1534592940000, "type": "temporal"},
                        "y": {"field": "price", "type": "quantitative"},
                        "text": {"field": "label"}
                      }
                    },
                    {
                      "mark": {"type": "text", "color": "#ffffff", "fontSize": 11, "align": "center", "baseline": "middle", "dy": 17},
                      "encoding": {
                        "x": {"datum": 1534592940000, "type": "temporal"},
                        "y": {"field": "price", "type": "quantitative"},
                        "text": {"field": "clock"}
                      }
                    },
                    {
                      "mark": {"type": "text", "color": "#ffffff", "fontSize": 11, "align": "center", "baseline": "middle"},
                      "encoding": {
                        "x": {"datum": 1536440400000, "type": "temporal"},
                        "y": {"field": "price", "type": "quantitative"},
                        "text": {"field": "label"}
                      }
                    },
                    {
                      "mark": {"type": "text", "color": "#ffffff", "fontSize": 11, "align": "center", "baseline": "middle", "dy": 17},
                      "encoding": {
                        "x": {"datum": 1536440400000, "type": "temporal"},
                        "y": {"field": "price", "type": "quantitative"},
                        "text": {"field": "clock"}
                      }
                    }
                  ]
                },
                {
                  "data": {"name": "candles"},
                  "mark": {"type": "point", "opacity": 0},
                  "encoding": {
                    "x": {"field": "t", "type": "temporal"},
                    "y": {
                      "field": "c", "type": "quantitative",
                      "scale": {"domain": [84.225, 146.082], "nice": false, "zero": false},
                      "axis": {
                        "orient": "left", "offset": -48, "title": null, "grid": true, "ticks": false, "labelPadding": 2,
                        "labelOverlap": false, "format": ".3f",
                        "values": [85, 90, 95, 100, 105, 110, 115, 120, 125, 130, 135, 140, 145]
                      }
                    }
                  }
                },
                {
                  "data": {"name": "candles"},
                  "mark": {"type": "point", "opacity": 0},
                  "encoding": {
                    "x": {"field": "t", "type": "temporal"},
                    "y": {
                      "field": "c", "type": "quantitative",
                      "scale": {"domain": [84.225, 146.082], "nice": false, "zero": false},
                      "axis": {
                        "orient": "right", "offset": -47, "title": null, "grid": false, "tickSize": 3, "labelPadding": 3,
                        "labelOverlap": false, "format": ".3f",
                        "values": [85, 90, 95, 100, 105, 110, 115, 120, 125, 130, 135, 140, 145]
                      }
                    }
                  }
                }
              ]
            },
            {
              "width": 491,
              "height": 195,
              "view": {"fill": "#ffffff"},
              "resolve": {"scale": {"y": "independent"}},
              "layer": [
                {
                  "layer": [
                    {
                      "data": {"name": "candles"},
                      "mark": {"type": "bar", "width": 1.6, "color": "#ec5b9f"},
                      "encoding": {
                        "x": {
                          "field": "t", "type": "temporal",
                          "scale": {"type": "utc", "domain": [1534704660000, 1536343200000], "range": [48, 444], "nice": false},
                          "axis": {
                            "orient": "bottom", "offset": -23, "title": null, "grid": true, "ticks": false, "labelPadding": 8,
                            "labelFontSize": 11.5, "labelOverlap": false,
                            "values": [1534723200000, 1535025600000, 1535328000000, 1535760000000, 1536105600000],
                            "labelExpr": "utcdate(datum.value) == 1 ? 'Sep' : utchours(datum.value) == 12 ? '15:00' : utcFormat(datum.value, '%-d')",
                            "labelFontWeight": {"condition": {"test": "utcdate(datum.value) == 1", "value": "bold"}, "value": "normal"}
                          }
                        },
                        "y": {
                          "field": "m", "type": "quantitative",
                          "scale": {"domain": [-2.257, 7.645], "range": [172, 0], "nice": false},
                          "axis": {
                            "orient": "left", "offset": -48, "title": null, "grid": true, "ticks": false, "labelPadding": 2,
                            "labelOverlap": false, "format": ".4f", "values": [-2, 0, 2, 4, 6]
                          }
                        },
                        "y2": {"datum": 0}
                      }
                    },
                    {
                      "data": {"name": "macd_l"},
                      "mark": {"type": "line", "strokeWidth": 1.2, "interpolate": "monotone"},
                      "encoding": {
                        "x": {"field": "t", "type": "temporal"},
                        "y": {"field": "v", "type": "quantitative"},
                        "color": {
                          "field": "s", "type": "nominal", "legend": null,
                          "scale": {
                            "domain": ["fast", "slow", "macd", "signal", "ema6", "ema12", "ema12b"],
                            "range": ["#50779c", "#d9474a", "#4aa8d8", "#f39c4c", "#7b93b6", "#e25b5b", "#e25b5b"]
                          }
                        }
                      }
                    },
                    {
                      "data": {"name": "arrow_m"},
                      "mark": {"type": "line", "color": "#e0262b", "strokeWidth": 1.8},
                      "encoding": {
                        "x": {"field": "t", "type": "temporal"},
                        "y": {"field": "v", "type": "quantitative"},
                        "detail": {"field": "s"}
                      }
                    }
                  ]
                },
                {
                  "data": {"name": "candles"},
                  "mark": {"type": "point", "opacity": 0},
                  "encoding": {
                    "x": {"field": "t", "type": "temporal"},
                    "y": {
                      "field": "m", "type": "quantitative",
                      "scale": {"domain": [-2.257, 7.645], "range": [172, 0], "nice": false},
                      "axis": {
                        "orient": "right", "offset": -47, "title": null, "grid": false, "tickSize": 3, "labelPadding": 3,
                        "labelOverlap": false, "format": ".4f", "values": [-2, 0, 2, 4, 6]
                      }
                    }
                  }
                }
              ]
            }
          ],
          "spacing": 0
        },
        {
          "vconcat": [
            {
              "width": 491,
              "height": 343,
              "view": {"fill": "#ffffff"},
              "resolve": {"scale": {"y": "independent"}},
              "layer": [
                {
                  "layer": [
                    {
                      "data": {"name": "boxes"},
                      "mark": {"type": "bar", "width": 7.1, "filled": false, "strokeWidth": 2},
                      "encoding": {
                        "x": {
                          "field": "n", "type": "quantitative",
                          "scale": {"domain": [-0.82, 53.84], "range": [52, 439], "nice": false, "zero": false},
                          "axis": {"orient": "bottom", "labels": false, "ticks": false, "domain": false, "grid": true, "title": null, "values": [2.71, 22.03, 34.74, 49.0]}
                        },
                        "y": {"field": "o", "type": "quantitative", "scale": {"domain": [76.1, 179.56], "nice": false, "zero": false}, "axis": null},
                        "y2": {"field": "c"},
                        "color": {"condition": {"test": "datum.c >= datum.o", "value": "#3aa58e"}, "value": "#e8525c"}
                      }
                    },
                    {
                      "data": {"name": "ema_r"},
                      "mark": {"type": "line", "strokeWidth": 1, "interpolate": "monotone"},
                      "encoding": {
                        "x": {"field": "n", "type": "quantitative"},
                        "y": {"field": "p", "type": "quantitative"},
                        "color": {
                          "field": "s", "type": "nominal", "legend": null,
                          "scale": {
                            "domain": ["fast", "slow", "macd", "signal", "ema6", "ema12", "ema12b"],
                            "range": ["#50779c", "#d9474a", "#4aa8d8", "#f39c4c", "#7b93b6", "#e25b5b", "#e25b5b"]
                          }
                        }
                      }
                    },
                    {
                      "data": {"name": "spikes"},
                      "mark": {"type": "rule", "color": "#8f8f8f", "strokeWidth": 2},
                      "encoding": {
                        "x": {"field": "n", "type": "quantitative"},
                        "y": {"field": "lo", "type": "quantitative"},
                        "y2": {"field": "hi"}
                      }
                    },
                    {
                      "data": {"name": "arrow_r"},
                      "mark": {"type": "line", "color": "#e0262b", "strokeWidth": 1.8},
                      "encoding": {
                        "x": {"field": "n", "type": "quantitative"},
                        "y": {"field": "p", "type": "quantitative"},
                        "detail": {"field": "s"}
                      }
                    }
                  ]
                },
                {
                  "data": {"name": "last_r"},
                  "layer": [
                    {
                      "transform": [{"filter": "datum.label == '139.760'"}],
                      "mark": {"type": "rule", "color": "#26a69a", "strokeDash": [1, 2], "strokeWidth": 1},
                      "encoding": {
                        "x": {"datum": -0.82, "type": "quantitative"},
                        "x2": {"datum": 53.84},
                        "y": {"field": "price", "type": "quantitative", "scale": {"domain": [76.1, 179.56], "nice": false, "zero": false}, "axis": null}
                      }
                    },
                    {
                      "transform": [{"filter": "datum.label == '118.240'"}],
                      "mark": {"type": "rule", "color": "#1ee3ef", "strokeWidth": 2},
                      "encoding": {
                        "x": {"datum": 49.56, "type": "quantitative"},
                        "x2": {"datum": 53.84},
                        "y": {"field": "price", "type": "quantitative"}
                      }
                    },
                    {
                      "mark": {"type": "point", "shape": "M-1,-0.333L1,-0.333L1,0.333L-1,0.333Z", "size": 2304, "filled": true, "opacity": 1, "strokeWidth": 0},
                      "encoding": {
                        "x": {"datum": -4.99, "type": "quantitative"},
                        "y": {"field": "price", "type": "quantitative"},
                        "color": {"condition": [{"test": "datum.label == '139.760'", "value": "#26a18f"}, {"test": "datum.label == '129.710'", "value": "#a6d8b4"}], "value": "#18f0f5"}
                      }
                    },
                    {
                      "mark": {"type": "point", "shape": "M-1,-0.348L1,-0.348L1,0.348L-1,0.348Z", "size": 2116, "filled": true, "opacity": 1, "strokeWidth": 0},
                      "encoding": {
                        "x": {"datum": 57.16, "type": "quantitative"},
                        "y": {"field": "price", "type": "quantitative"},
                        "color": {"condition": [{"test": "datum.label == '139.760'", "value": "#26a18f"}, {"test": "datum.label == '129.710'", "value": "#a6d8b4"}], "value": "#18f0f5"}
                      }
                    },
                    {
                      "mark": {"type": "text", "fontSize": 11, "align": "center", "baseline": "middle"},
                      "encoding": {
                        "x": {"datum": -4.99, "type": "quantitative"},
                        "y": {"field": "price", "type": "quantitative"},
                        "text": {"field": "label"},
                        "color": {"condition": {"test": "datum.label == '139.760'", "value": "#ffffff"}, "value": "#222222"}
                      }
                    },
                    {
                      "mark": {"type": "text", "fontSize": 11, "align": "center", "baseline": "middle"},
                      "encoding": {
                        "x": {"datum": 57.16, "type": "quantitative"},
                        "y": {"field": "price", "type": "quantitative"},
                        "text": {"field": "label"},
                        "color": {"condition": {"test": "datum.label == '139.760'", "value": "#ffffff"}, "value": "#222222"}
                      }
                    }
                  ]
                },
                {
                  "data": {"values": [{"txt": "Monero / Dollar, 2000", "row": 0}, {"txt": "EMA (6, close)", "row": 1}, {"txt": "EMA (12, close)", "row": 2}]},
                  "layer": [
                    {
                      "transform": [{"filter": "datum.row == 0"}],
                      "mark": {"type": "text", "align": "left", "baseline": "middle", "fontSize": 11.5, "fontWeight": "bold", "color": "#4f4f4f"},
                      "encoding": {
                        "x": {"datum": 0.3, "type": "quantitative"},
                        "y": {"field": "row", "type": "ordinal", "scale": {"domain": [0, 1, 2], "range": [17, 49], "padding": 0}, "axis": null},
                        "text": {"field": "txt"}
                      }
                    },
                    {
                      "transform": [{"filter": "datum.row > 0"}],
                      "mark": {"type": "text", "align": "left", "baseline": "middle", "fontSize": 11.5, "color": "#6a6a6a"},
                      "encoding": {
                        "x": {"datum": 0.3, "type": "quantitative"},
                        "y": {"field": "row", "type": "ordinal"},
                        "text": {"field": "txt"}
                      }
                    }
                  ]
                },
                {
                  "data": {"name": "boxes"},
                  "mark": {"type": "point", "opacity": 0},
                  "encoding": {
                    "x": {"field": "n", "type": "quantitative"},
                    "y": {
                      "field": "c", "type": "quantitative",
                      "scale": {"domain": [76.1, 179.56], "nice": false, "zero": false},
                      "axis": {
                        "orient": "left", "offset": -52, "title": null, "grid": true, "tickSize": 4, "labelPadding": 2,
                        "labelOverlap": false, "format": ".3f", "values": [80, 90, 100, 110, 120, 130, 140, 150, 160, 170]
                      }
                    }
                  }
                },
                {
                  "data": {"name": "boxes"},
                  "mark": {"type": "point", "opacity": 0},
                  "encoding": {
                    "x": {"field": "n", "type": "quantitative"},
                    "y": {
                      "field": "c", "type": "quantitative",
                      "scale": {"domain": [76.1, 179.56], "nice": false, "zero": false},
                      "axis": {
                        "orient": "right", "offset": -52, "title": null, "grid": false, "tickSize": 4, "labelPadding": 2,
                        "labelOverlap": false,
                        "values": [80, 90, 100, 110, 120, 130, 140, 151.5, 163.57],
                        "labelExpr": "datum.value > 150 ? '110.000' : format(datum.value, '.3f')"
                      }
                    }
                  }
                }
              ]
            },
            {
              "width": 491,
              "height": 195,
              "view": {"fill": "#ffffff"},
              "resolve": {"scale": {"y": "independent"}},
              "layer": [
                {
                  "layer": [
                    {
                      "data": {"name": "hist_r"},
                      "mark": {"type": "bar", "width": 2.4, "color": "#ec5b9f"},
                      "encoding": {
                        "x": {
                          "field": "n", "type": "quantitative",
                          "scale": {"domain": [-0.82, 53.84], "range": [52, 439], "nice": false, "zero": false},
                          "axis": {
                            "orient": "bottom", "offset": -23, "title": null, "grid": true, "ticks": false, "labelPadding": 8,
                            "labelFontSize": 11.5, "labelFontWeight": "bold", "labelColor": "#444444", "labelOverlap": false,
                            "values": [2.71, 22.03, 34.74, 49.0],
                            "labelExpr": "datum.value < 10 ? 'Jun' : datum.value < 30 ? 'Jul' : datum.value < 40 ? 'Aug' : 'Sep'"
                          }
                        },
                        "y": {"field": "h", "type": "quantitative", "scale": {"domain": [-18.16, 6.71], "range": [172, 0], "nice": false}, "axis": null},
                        "y2": {"datum": 0}
                      }
                    },
                    {
                      "data": {"name": "macd_r"},
                      "mark": {"type": "line", "strokeWidth": 1.2},
                      "encoding": {
                        "x": {"field": "n", "type": "quantitative"},
                        "y": {"field": "v", "type": "quantitative"},
                        "color": {
                          "field": "s", "type": "nominal", "legend": null,
                          "scale": {
                            "domain": ["fast", "slow", "macd", "signal", "ema6", "ema12", "ema12b"],
                            "range": ["#50779c", "#d9474a", "#4aa8d8", "#f39c4c", "#7b93b6", "#e25b5b", "#e25b5b"]
                          }
                        }
                      }
                    }
                  ]
                },
                {
                  "data": {"values": [{"txt": "MACD (12, 26, close, 9)", "row": 0}]},
                  "mark": {"type": "text", "align": "left", "baseline": "middle", "fontSize": 11.5, "color": "#555555"},
                  "encoding": {
                    "x": {"datum": 0.3, "type": "quantitative"},
                    "y": {"field": "row", "type": "ordinal", "scale": {"range": [16, 16]}, "axis": null},
                    "text": {"field": "txt"}
                  }
                },
                {
                  "data": {"name": "hist_r"},
                  "mark": {"type": "point", "opacity": 0},
                  "encoding": {
                    "x": {"field": "n", "type": "quantitative"},
                    "y": {
                      "field": "h", "type": "quantitative",
                      "scale": {"domain": [-18.16, 6.71], "range": [172, 0], "nice": false},
                      "axis": {
                        "orient": "left", "offset": -52, "title": null, "grid": true, "tickSize": 4, "labelPadding": 2,
                        "labelOverlap": false, "format": ".4f", "values": [-16, -12, -8, -4, 0, 4]
                      }
                    }
                  }
                },
                {
                  "data": {"name": "hist_r"},
                  "mark": {"type": "point", "opacity": 0},
                  "encoding": {
                    "x": {"field": "n", "type": "quantitative"},
                    "y": {
                      "field": "h", "type": "quantitative",
                      "scale": {"domain": [-18.16, 6.71], "range": [172, 0], "nice": false},
                      "axis": {
                        "orient": "right", "offset": -52, "title": null, "grid": false, "tickSize": 4, "labelPadding": 2,
                        "labelOverlap": false, "format": ".4f", "values": [-16, -12, -8, -4, 0, 4]
                      }
                    }
                  }
                }
              ]
            }
          ],
          "spacing": 0
        }
      ],
      "spacing": 6
    },
    {
      "width": 1000,
      "height": 36,
      "view": {"stroke": null},
      "data": {"values": [{"a": "Created with", "b": "TradingView"}]},
      "layer": [
        {
          "mark": {"type": "text", "align": "left", "baseline": "middle", "fontSize": 12.5, "color": "#222222"},
          "encoding": {
            "x": {"datum": 0.006, "type": "quantitative", "scale": {"domain": [0, 1]}, "axis": null},
            "y": {"datum": 0.472, "type": "quantitative", "scale": {"domain": [0, 1]}, "axis": null},
            "text": {"field": "a"}
          }
        },
        {
          "mark": {"type": "point", "shape": "M-1,0.45C-1,0.1 -0.75,-0.05 -0.5,0C-0.4,-0.45 0.2,-0.6 0.45,-0.2C0.8,-0.2 1,0.1 1,0.45Z", "size": 529, "filled": true, "color": "#5ab0e2", "opacity": 1, "strokeWidth": 0},
          "encoding": {
            "x": {"datum": 0.0945, "type": "quantitative"},
            "y": {"datum": 0.472, "type": "quantitative"}
          }
        },
        {
          "mark": {"type": "text", "align": "left", "baseline": "middle", "fontSize": 12.5, "color": "#56a8dc"},
          "encoding": {
            "x": {"datum": 0.112, "type": "quantitative"},
            "y": {"datum": 0.472, "type": "quantitative"},
            "text": {"field": "b"}
          }
        }
      ]
    }
  ]
}
